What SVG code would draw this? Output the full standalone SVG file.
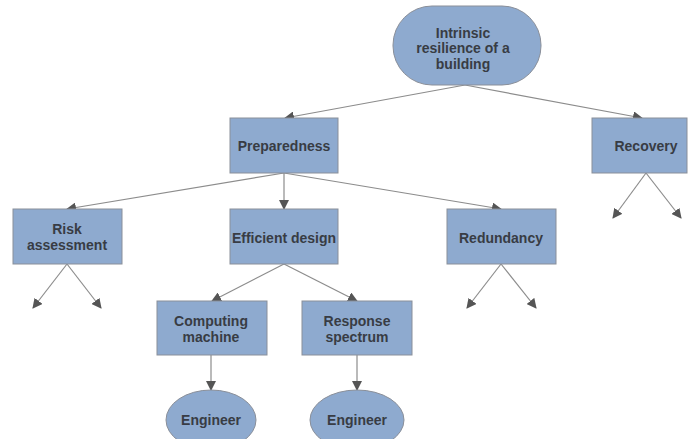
<svg xmlns="http://www.w3.org/2000/svg" width="690" height="439" viewBox="0 0 690 439">
<defs>
<style>
.n{fill:#8eaacf;stroke:#8a8f99;stroke-width:1}
.t{font-family:"Liberation Sans",Arial,sans-serif;font-size:14px;font-weight:bold;fill:#383c44;text-anchor:middle}
.c{stroke:#8c8c8c;stroke-width:1.2;fill:none;marker-end:url(#ah)}
</style>
<marker id="ah" viewBox="0 0 10 10" refX="9" refY="5" markerWidth="10" markerHeight="10" markerUnits="userSpaceOnUse" orient="auto">
<path d="M0,0 L10,5 L0,10 z" fill="#555"/>
</marker>
</defs>
<rect width="690" height="439" fill="#fff"/>
<g id="connectors">
<line class="c" x1="465" y1="85" x2="285" y2="118"/>
<line class="c" x1="465" y1="85" x2="642" y2="118"/>
<line class="c" x1="284" y1="173" x2="67" y2="209"/>
<line class="c" x1="284" y1="173" x2="284" y2="209"/>
<line class="c" x1="284" y1="173" x2="501" y2="209"/>
<line class="c" x1="67" y1="264" x2="33" y2="308"/>
<line class="c" x1="67" y1="264" x2="101" y2="308"/>
<line class="c" x1="501" y1="264" x2="467" y2="308"/>
<line class="c" x1="501" y1="264" x2="536" y2="308"/>
<line class="c" x1="646" y1="173" x2="613" y2="218"/>
<line class="c" x1="646" y1="173" x2="681" y2="218"/>
<line class="c" x1="284" y1="264" x2="212" y2="301"/>
<line class="c" x1="284" y1="264" x2="357" y2="301"/>
<line class="c" x1="211" y1="355" x2="211" y2="390"/>
<line class="c" x1="357" y1="355" x2="357" y2="390"/>
</g>
<g id="root">
<rect class="n" x="393" y="6" width="148" height="79" rx="39" ry="39"/>
<text class="t" x="463" y="38">Intrinsic</text>
<text class="t" x="463" y="53">resilience of a</text>
<text class="t" x="463" y="69">building</text>
</g>
<g id="preparedness">
<rect class="n" x="230" y="118" width="108" height="55"/>
<text class="t" x="284" y="151">Preparedness</text>
</g>
<g id="recovery">
<rect class="n" x="592" y="118" width="95" height="55"/>
<text class="t" x="646" y="151">Recovery</text>
</g>
<g id="risk">
<rect class="n" x="13" y="209" width="109" height="55"/>
<text class="t" x="67" y="234">Risk</text>
<text class="t" x="67" y="250">assessment</text>
</g>
<g id="efficient">
<rect class="n" x="230" y="209" width="108" height="55"/>
<text class="t" x="284" y="243">Efficient design</text>
</g>
<g id="redundancy">
<rect class="n" x="447" y="209" width="109" height="55"/>
<text class="t" x="501" y="243">Redundancy</text>
</g>
<g id="computing">
<rect class="n" x="157" y="301" width="110" height="54"/>
<text class="t" x="211" y="326">Computing</text>
<text class="t" x="211" y="342">machine</text>
</g>
<g id="response">
<rect class="n" x="302" y="301" width="110" height="54"/>
<text class="t" x="357" y="326">Response</text>
<text class="t" x="357" y="342">spectrum</text>
</g>
<g id="engineer1">
<ellipse class="n" cx="211" cy="420" rx="45" ry="30"/>
<text class="t" x="211" y="425">Engineer</text>
</g>
<g id="engineer2">
<ellipse class="n" cx="357" cy="420" rx="47" ry="30"/>
<text class="t" x="357" y="425">Engineer</text>
</g>
</svg>
